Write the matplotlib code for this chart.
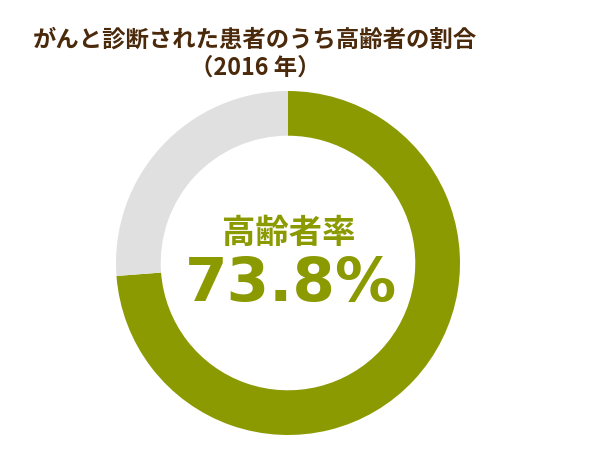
import matplotlib
matplotlib.use("Agg")
import matplotlib.pyplot as plt

labels = ["高齢者", "その他"]
values = [73.8, 26.2]
colors = ["#8a9a00", "#e0e0e0"]
title_lines = ["がんと診断された患者のうち高齢者の割合", "（2016 年）"]
center_label = "高齢者率"
center_value = "73.8%"

W, H = 600, 450
fig = plt.figure(figsize=(6, 4.5), dpi=100)
fig.patch.set_facecolor("white")

cx, cy, r = 288, 263, 172
ax = fig.add_axes([(cx - r) / W, (H - cy - r) / H, 2 * r / W, 2 * r / H])
ax.pie(values, colors=colors, startangle=90, counterclock=False, radius=1,
       wedgeprops=dict(width=0.26, edgecolor="none"))
ax.set_xlim(-1, 1)
ax.set_ylim(-1, 1)
ax.set_aspect("equal")
ax.axis("off")

jp = ["Noto Sans CJK JP", "DejaVu Sans"]
brown = "#4b2a0c"
fig.text(255 / W, 1 - 40 / H, title_lines[0], ha="center", va="center",
         fontsize=16.8, fontweight="bold", color=brown, family=jp)
fig.text(255 / W, 1 - 68 / H, title_lines[1], ha="center", va="center",
         fontsize=16.8, fontweight="bold", color=brown, family=jp)

fig.text(289 / W, 1 - 233 / H, center_label, ha="center", va="center",
         fontsize=24, fontweight="bold", color=colors[0], family=jp)
fig.text(291 / W, 1 - 285 / H, center_value, ha="center", va="center",
         fontsize=44, fontweight="bold", color=colors[0], family=["DejaVu Sans"])

fig.savefig("out.png", dpi=100, facecolor="white")
